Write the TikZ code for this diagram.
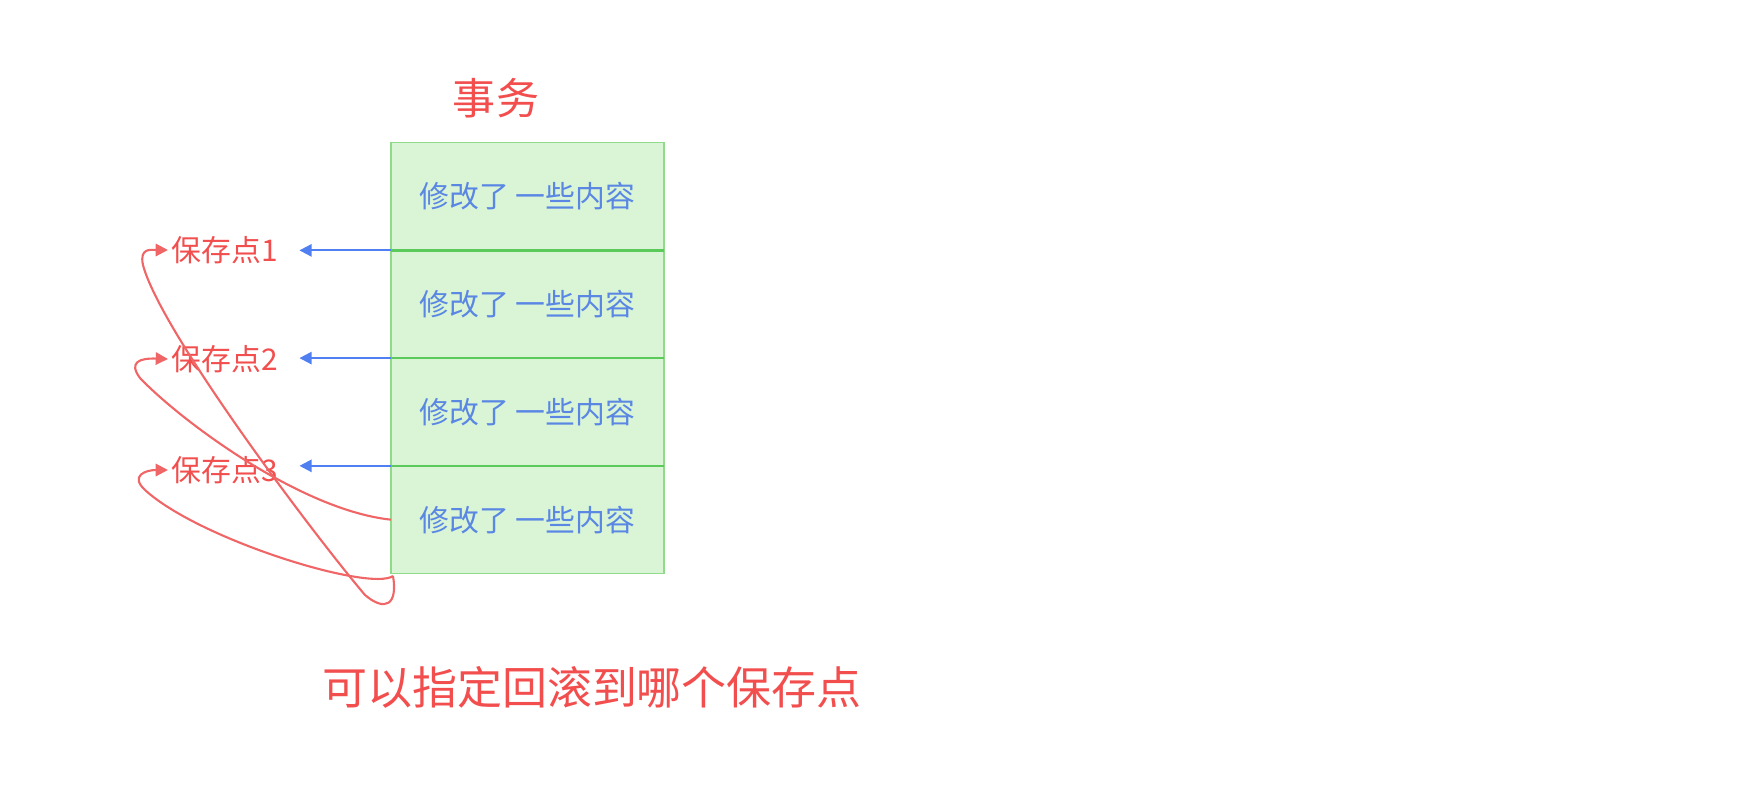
\documentclass[tikz,border=0pt]{standalone}
\usepackage{fontspec}
\setmainfont{Noto Sans CJK SC}
\usepackage{tikz}
\usetikzlibrary{positioning,arrows.meta}
\definecolor{rosso}{HTML}{F24E4E}
\definecolor{rossochiaro}{HTML}{F06666}
\definecolor{blu}{HTML}{4F7FF0}
\definecolor{blutesto}{HTML}{5A86E4}
\definecolor{verde}{HTML}{8FDB8A}
\definecolor{verdescuro}{HTML}{5ACB5A}
\definecolor{verdino}{HTML}{D9F5D6}
\tikzset{
  riga/.style={draw=verde, line width=0.8pt, fill=verdino, minimum width=5.46cm,
    minimum height=2.155cm, inner sep=0pt, outer sep=0pt, text=blutesto,
    font=\fontsize{17pt}{20pt}\selectfont},
  punto/.style={text=rosso, anchor=west, inner sep=2pt, font=\fontsize{17pt}{20pt}\selectfont},
  freccia/.style={blu, line width=1.2pt, -{Triangle[length=7pt,width=7pt]}},
  ritorno/.style={rossochiaro, line width=1.2pt, -{Triangle[length=7pt,width=7pt]}}
}
\begin{document}
\begin{tikzpicture}[x=0.02cm, y=-0.02cm]
        \useasboundingbox (0,0) rectangle (1752,795);
        % Titolo
        \node[text=rosso, font=\fontsize{24.5pt}{28pt}\selectfont] (t) at (496,98) {事务};
        % Righe della transazione
        \node[riga] (r1) at (527.5,196.5) {修改了 一些内容};
        \node[riga, below=0pt of r1] (r2) {修改了 一些内容};
        \node[riga, below=0pt of r2] (r3) {修改了 一些内容};
        \node[riga, below=0pt of r3] (r4) {修改了 一些内容};
        \foreach \r in {r1,r2,r3} \draw[verdescuro, line width=1.3pt] (\r.south west) -- (\r.south east);
        % Punti di salvataggio
        \node[punto] (s1) at (168,250) {保存点1};
        \node[punto] (s2) at (168,359) {保存点2};
        \node[punto] (s3) at (168,470) {保存点3};
        \draw[freccia] (r1.south west) -- ([xshift=0.35cm]s1.east |- r1.south west);
        \draw[freccia] (r2.south west) -- ([xshift=0.35cm]s2.east |- r2.south west);
        \draw[freccia] (r3.south west) -- ([xshift=0.35cm]s3.east |- r3.south west);
        % Ritorno ai punti
        \coordinate (a0) at (393,576);
        \draw[ritorno] (a0) .. controls (398,605) and (385,612) .. (365,595)
            .. controls (310,530) and (160,330) .. (143,265)
            .. controls (139,247) and (152,250) .. (s1.west);
        \draw[ritorno] (r4.west) .. controls (300,510) and (180,420) .. (140,378)
            .. controls (128,362) and (140,358) .. (s2.west);
        \draw[ritorno] (a0) .. controls (370,592) and (200,540) .. (145,490)
            .. controls (130,476) and (145,470) .. (s3.west);
        \node[text=rosso, font=\fontsize{25.6pt}{30pt}\selectfont] (n) at (592,687) {可以指定回滚到哪个保存点};
    \end{tikzpicture}
\end{document}
